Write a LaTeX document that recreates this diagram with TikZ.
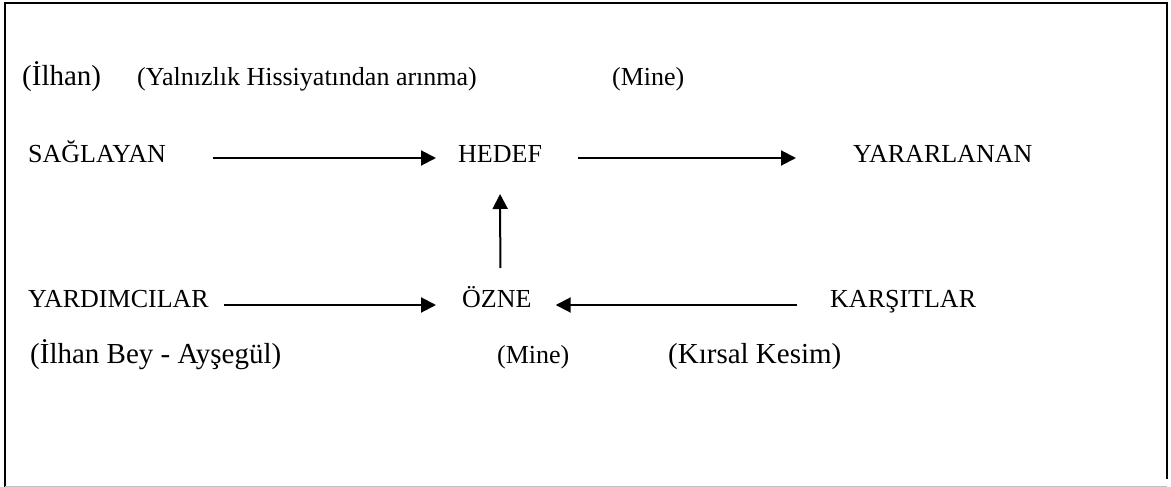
\documentclass[tikz,border=0pt]{standalone}
\usepackage{fontspec}
\setmainfont{Liberation Serif}
\usetikzlibrary{arrows.meta}
\begin{document}
\begin{tikzpicture}[x=1pt,y=-1pt,
  lbl/.style={inner sep=0pt,anchor=base west,font=\fontsize{26}{30}\selectfont},
  big/.style={lbl,font=\fontsize{29}{33}\selectfont},
  small/.style={lbl,font=\fontsize{26}{30}\selectfont},
  arr/.style={line width=2pt,-{Triangle[length=15pt,width=15pt]}},
  frame/.style={line width=2pt,black}]
\useasboundingbox (0,0) rectangle (1171,487);
% frame
\draw[frame] (5,487) -- (5,3) -- (1167,3) -- (1167,479);
\draw[gray!50,line width=1pt] (5,486) -- (1167,486);
% top line of labels
\node[big]   (ilhan) at (22,85)  {(İlhan)};
\node[small] (yaln)  at (137,85) {(Yalnızlık Hissiyatından arınma)};
\node[lbl]   (mine1) at (612,85) {(Mine)};
% actants
\node[lbl] (sag)   at (28,162)  {SAĞLAYAN};
\node[lbl] (hedef) at (458,162) {HEDEF};
\node[lbl] (yarar) at (853,162) {YARARLANAN};
\node[lbl] (yard)  at (28,307)  {YARDIMCILAR};
\node[lbl] (ozne)  at (462,307) {ÖZNE};
\node[lbl] (kars)  at (830,307) {KARŞITLAR};
% bottom line of labels
\node[big] (ilbey) at (30,363)  {(İlhan Bey - Ayşegül)};
\node[lbl] (mine2) at (497,363) {(Mine)};
\node[big] (kirs)  at (668,363) {(Kırsal Kesim)};
% connectors
\draw[arr] ([xshift=47pt,yshift=4pt]sag.base east) -- ([xshift=-22pt,yshift=4pt]hedef.base west);
\draw[arr] ([xshift=36pt,yshift=4pt]hedef.base east) -- ([xshift=-57pt,yshift=4pt]yarar.base west);
\draw[arr] ([xshift=3.5pt,yshift=39pt]ozne.base) -- ([yshift=-32pt]hedef.base);
\draw[arr] ([xshift=15pt,yshift=2pt]yard.base east) -- ([xshift=-26pt,yshift=2pt]ozne.base west);
\draw[arr] ([xshift=-33pt,yshift=2pt]kars.base west) -- ([xshift=24pt,yshift=2pt]ozne.base east);
\end{tikzpicture}
\end{document}
